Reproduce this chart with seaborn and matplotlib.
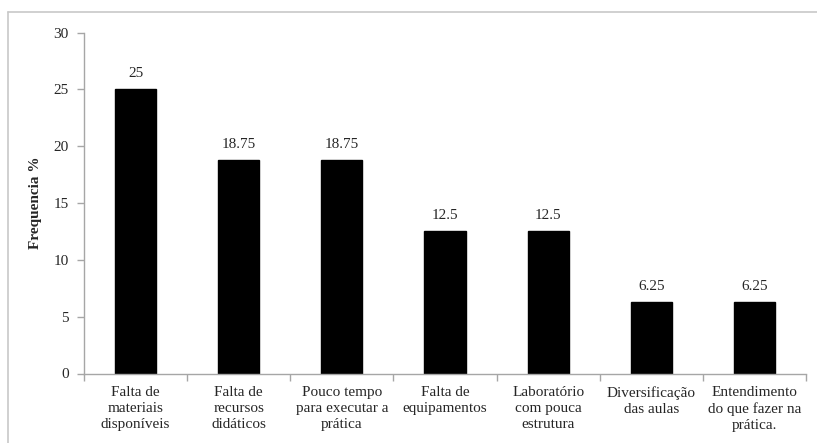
import matplotlib
matplotlib.use("Agg")
import matplotlib.pyplot as plt
import seaborn as sns
import pandas as pd
from matplotlib.lines import Line2D
from matplotlib.ticker import FixedLocator, NullFormatter

categories = [
    "Falta de\nmateriais\ndisponíveis",
    "Falta de\nrecursos\ndidáticos",
    "Pouco tempo\npara executar a\nprática",
    "Falta de\nequipamentos",
    "Laboratório\ncom pouca\nestrutura",
    "Diversificação\ndas aulas",
    "Entendimento\ndo que fazer na\nprática.",
]
values = [25, 18.75, 18.75, 12.5, 12.5, 6.25, 6.25]
value_labels = ["25", "18.75", "18.75", "12.5", "12.5", "6.25", "6.25"]
y_ticks = [0, 5, 10, 15, 20, 25, 30]

sns.set_style("white")
plt.rcParams["font.family"] = ["Liberation Serif", "DejaVu Serif"]

W, H = 817, 443
fig = plt.figure(figsize=(W / 100, H / 100), dpi=100)
ax = fig.add_axes([84 / W, 1 - 373.5 / H, (806 - 84) / W, (373.5 - 32.5) / H])

df = pd.DataFrame({"cat": categories, "val": values})
sns.barplot(data=df, x="cat", y="val", color="black", width=0.4,
            saturation=1, ax=ax, edgecolor="black")

ax.set_xlim(-0.5, 6.5)
ax.set_ylim(0, 30)
ax.set_yticks(y_ticks)
ax.set_yticklabels([str(t) for t in y_ticks], fontsize=11)

gray = "#a6a6a6"
for s in ["top", "right"]:
    ax.spines[s].set_visible(False)
for s in ["left", "bottom"]:
    ax.spines[s].set_color(gray)
    ax.spines[s].set_linewidth(1.0)

ax.tick_params(axis="y", which="major", direction="out", length=5, width=1,
               color=gray, pad=6, left=True)
ax.tick_params(axis="x", which="major", length=0, pad=9, labelsize=11)
ax.xaxis.set_minor_locator(FixedLocator([i - 0.5 for i in range(8)]))
ax.xaxis.set_minor_formatter(NullFormatter())
ax.tick_params(axis="x", which="minor", direction="out", length=5, width=1,
               color=gray, bottom=True)
for lbl in ax.get_xticklabels():
    lbl.set_linespacing(1.3)

ax.set_xlabel("")
ax.set_ylabel("Frequencia %", fontsize=11, fontweight="bold", labelpad=8)

for i, (v, t) in enumerate(zip(values, value_labels)):
    ax.annotate(t, (i, v), xytext=(0, 11.5), textcoords="offset points",
                ha="center", va="center", fontsize=11)

# outer frame (partially visible)
fig.add_artist(Line2D([8 / W, 8 / W], [0, 1 - 12 / H], transform=fig.transFigure,
                      color="#c8c8c8", linewidth=1.2))
fig.add_artist(Line2D([8 / W, 1], [1 - 12 / H, 1 - 12 / H], transform=fig.transFigure,
                      color="#c8c8c8", linewidth=1.2))

fig.savefig("out.png", dpi=100)
